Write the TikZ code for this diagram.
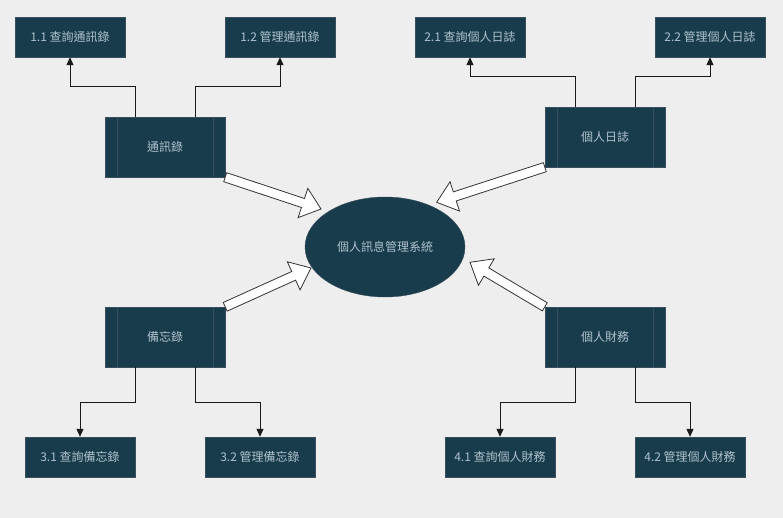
\documentclass[tikz,border=0pt]{standalone}
\usepackage{fontspec}
\setmainfont{Noto Sans CJK TC}
\usetikzlibrary{calc,arrows.meta,shapes.geometric}
\definecolor{bg}{HTML}{EEEEEE}
\definecolor{boxfill}{HTML}{183C4C}
\definecolor{boxline}{HTML}{3A4F5C}
\definecolor{txt}{HTML}{AFC1CD}
\newcommand\blockarr[2]{%
  \path (#1) coordinate (ba) (#2) coordinate (bb);
  \coordinate (bh) at ($(bb)!19pt!(ba)$);
  \draw[barrow] ($(ba)!4.75pt!90:(bb)$) -- ($(bh)!4.75pt!90:(bb)$) -- ($(bh)!15.4pt!90:(bb)$)
    -- (bb) -- ($(bh)!15.4pt!-90:(bb)$) -- ($(bh)!4.75pt!-90:(bb)$) -- ($(ba)!4.75pt!-90:(bb)$) -- cycle;}
\begin{document}
\begin{tikzpicture}[x=1pt,y=-1pt,
  lbl/.style={font=\fontsize{12}{14}\selectfont,text=txt},
  leaf/.style={lbl,draw=boxline,fill=boxfill,minimum width=110pt,minimum height=40pt,inner sep=0pt},
  proc/.style={lbl,draw=boxline,fill=boxfill,minimum width=120pt,minimum height=60pt,inner sep=0pt},
  sysnode/.style={lbl,ellipse,draw=boxline,fill=boxfill,minimum width=160pt,minimum height=100pt,inner sep=0pt},
  link/.style={draw=black!90,line width=1pt,-{Triangle[width=7pt,length=8pt]}},
  barrow/.style={draw=black!80,fill=white,line width=0.8pt,line join=miter}]
\fill[bg] (0,0) rectangle (783,518);
\useasboundingbox (0,0) rectangle (783,518);

\node[leaf] (l11) at (70,37) {1.1 查詢通訊錄};
\node[leaf] (l12) at (280,37) {1.2 管理通訊錄};
\node[leaf] (l21) at (470,37) {2.1 查詢個人日誌};
\node[leaf] (l22) at (710,37) {2.2 管理個人日誌};
\node[proc] (p1) at (165,147) {通訊錄};
\node[proc] (p2) at (605,137) {個人日誌};
\node[proc] (p3) at (165,337) {備忘錄};
\node[proc] (p4) at (605,337) {個人財務};
\node[leaf] (l31) at (80,457) {3.1 查詢備忘錄};
\node[leaf] (l32) at (260,457) {3.2 管理備忘錄};
\node[leaf] (l41) at (500,457) {4.1 查詢個人財務};
\node[leaf] (l42) at (690,457) {4.2 管理個人財務};
\node[sysnode] (sys) at (385,247) {個人訊息管理系統};

\foreach \p in {p1,p2,p3,p4}{
  \draw[boxline] ([xshift=12pt]\p.north west) -- ([xshift=12pt]\p.south west);
  \draw[boxline] ([xshift=-12pt]\p.north east) -- ([xshift=-12pt]\p.south east);
}

\draw[link] ([xshift=-30pt]p1.north) -- ++(0,-30) -| (l11.south);
\draw[link] ([xshift=30pt]p1.north) -- ++(0,-30) -| (l12.south);
\draw[link] ([xshift=-30pt]p2.north) -- ++(0,-30) -| (l21.south);
\draw[link] ([xshift=30pt]p2.north) -- ++(0,-30) -| (l22.south);
\draw[link] ([xshift=-30pt]p3.south) -- ++(0,35) -| (l31.north);
\draw[link] ([xshift=30pt]p3.south) -- ++(0,35) -| (l32.north);
\draw[link] ([xshift=-30pt]p4.south) -- ++(0,35) -| (l41.north);
\draw[link] ([xshift=30pt]p4.south) -- ++(0,35) -| (l42.north);

\coordinate (t1) at (321,209);
\coordinate (t2) at (311,268);
\coordinate (t3) at (436.7,202.3);
\coordinate (t4) at (470,262.3);
\blockarr{p1.south east}{t1}
\blockarr{p3.north east}{t2}
\blockarr{p2.south west}{t3}
\blockarr{p4.north west}{t4}
\end{tikzpicture}
\end{document}
